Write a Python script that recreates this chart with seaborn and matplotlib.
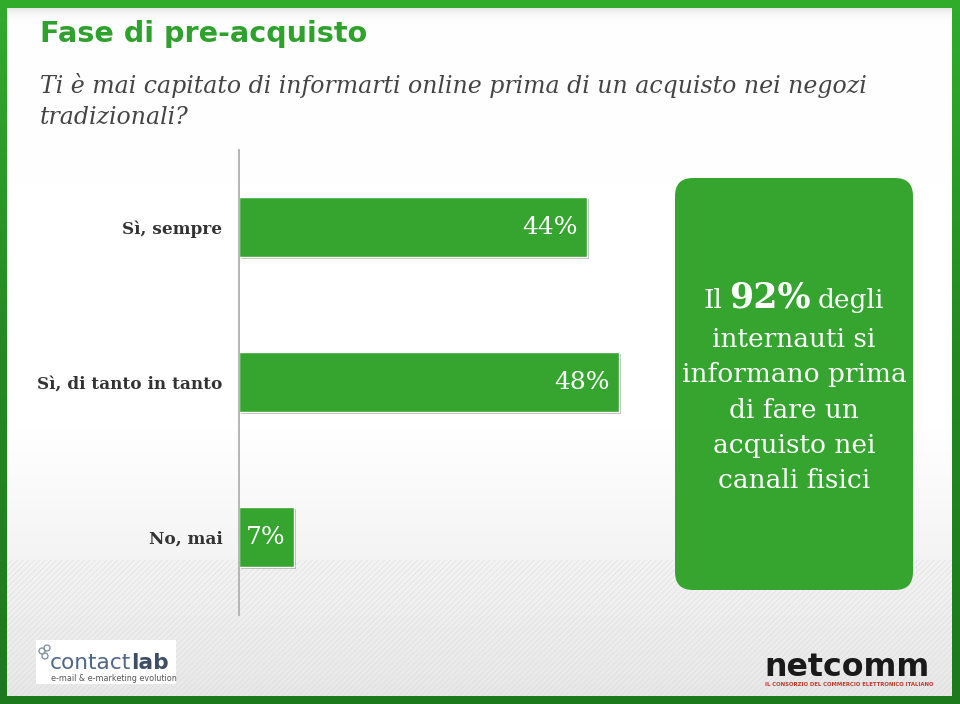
import matplotlib
matplotlib.use("Agg")
import matplotlib.pyplot as plt
import seaborn as sns
import numpy as np
import matplotlib.patheffects as pe
from matplotlib.patches import Rectangle, FancyBboxPatch, Circle
from matplotlib.colors import LinearSegmentedColormap

# ---------------- data ----------------
categories = ["Sì, sempre", "Sì, di tanto in tanto", "No, mai"]
values = [44, 48, 7]
value_labels = ["44%", "48%", "7%"]
title = "Fase di pre-acquisto"
subtitle_lines = ["Ti è mai capitato di informarti online prima di un acquisto nei negozi",
                  "tradizionali?"]
callout_first = ["Il", "92%", "degli"]
callout_lines = ["internauti si", "informano prima", "di fare un", "acquisto nei", "canali fisici"]

GREEN = "#35a52f"
W, H = 960, 704

sns.set_theme(style="white")
plt.rcParams['font.family'] = ['DejaVu Serif', 'DejaVu Sans']
plt.rcParams['hatch.linewidth'] = 0.6

fig = plt.figure(figsize=(9.6, 7.04), dpi=100)
bg = fig.add_axes([0, 0, 1, 1])
bg.set_xlim(0, W)
bg.set_ylim(H, 0)
bg.axis('off')

# border gradient
border_cmap = LinearSegmentedColormap.from_list('b', ['#31ac2b', '#238a21', '#1c7a1c'])
bg.imshow(np.linspace(0, 1, 256)[:, None], extent=[0, W, H, 0], cmap=border_cmap,
          aspect='auto', zorder=0)

# inner panel with soft gradient
x0, x1, y0, y1 = 7, 952, 8, 696
n = y1 - y0
rows = np.arange(n)
shade = np.ones(n)
shade -= 0.10 * np.exp(-rows / 5.0)
t = np.clip((rows - 420) / (n - 420), 0, 1)
shade -= 0.09 * t
img = np.repeat(shade[:, None, None], 3, axis=2)
bg.imshow(img, extent=[x0, x1, y1, y0], aspect='auto', zorder=1, vmin=0, vmax=1)
bg.add_patch(Rectangle((x0, 560), x1 - x0, y1 - 560, fill=False, hatch='//////',
                       edgecolor='#d9d9d9', lw=0, alpha=0.6, zorder=1.5))

# title & subtitle
bg.text(40, 34, title, color="#2fa12d", fontsize=20.6, fontweight='bold',
        family='DejaVu Sans', va='center', ha='left', zorder=3)
for i, line in enumerate(subtitle_lines):
    bg.text(40, 86 + 32 * i, line, color="#444444", fontsize=17, style='italic',
            va='center', ha='left', zorder=3)

# callout box
bg.add_patch(FancyBboxPatch((675, 178), 238, 412,
                            boxstyle='round,pad=0,rounding_size=18',
                            fc=GREEN, ec='none', zorder=2))
renderer = fig.canvas.get_renderer()
first_kw = [dict(fontsize=19), dict(fontsize=25, fontweight='bold'), dict(fontsize=19)]
pieces = [bg.text(0, 308, s, color='white', va='baseline', ha='left', zorder=3, **kw)
          for s, kw in zip(callout_first, first_kw)]
widths = [p.get_window_extent(renderer).width for p in pieces]
gap = 7
xx = 794 - (sum(widths) + gap * (len(widths) - 1)) / 2
for p, w in zip(pieces, widths):
    p.set_x(xx)
    xx += w + gap
for i, line in enumerate(callout_lines):
    bg.text(794, 347 + 35.3 * i, line, color='white', fontsize=19, va='baseline',
            ha='center', zorder=3)

# contactlab logo
bg.add_patch(Rectangle((36, 640), 140, 44, fc='white', ec='none', zorder=2))
for cx, cy in [(42, 651), (47, 648), (45, 656)]:
    bg.add_patch(Circle((cx, cy), 3, fc='none', ec='#7a8aa0', lw=0.9, zorder=3))
tc = bg.text(50, 669, "contact", family='DejaVu Sans', fontsize=15.6, color='#50678a',
             va='baseline', ha='left', zorder=3)
wc = tc.get_window_extent(renderer).width
bg.text(50 + wc, 669, "lab", family='DejaVu Sans', fontsize=15.6, fontweight='bold',
        color='#3e4e66', va='baseline', ha='left', zorder=3)
bg.text(51, 681, "e-mail & e-marketing evolution", family='DejaVu Sans', fontsize=5.8,
        color='#555555', va='baseline', ha='left', zorder=3)

# netcomm logo
bg.text(764, 676, "netcomm", family='DejaVu Sans', fontsize=22.8, fontweight='bold',
        color='#1a1a1a', va='baseline', ha='left', zorder=3)
bg.text(765, 686, "IL CONSORZIO DEL COMMERCIO ELETTRONICO ITALIANO", family='DejaVu Sans',
        fontsize=3.9, fontweight='bold', color='#c0392b', va='baseline', ha='left', zorder=3)

# ---------------- bar chart ----------------
ax = fig.add_axes([239 / W, 1 - 614.5 / H, 435 / W, 465 / H])
ax.patch.set_alpha(0)
sns.barplot(x=values, y=categories, ax=ax, color=GREEN, saturation=1, width=0.39,
            orient='h')
ax.set_xlim(0, 55)
ax.set_ylim(2.5, -0.5)
ax.set_xticks([])
ax.set_xlabel('')
ax.set_ylabel('')
for s in ['top', 'right', 'bottom']:
    ax.spines[s].set_visible(False)
ax.spines['left'].set_color('#b0b0b0')
ax.spines['left'].set_linewidth(1.3)
ax.tick_params(axis='y', length=0, pad=12)
for lab in ax.get_yticklabels():
    lab.set_fontweight('bold')
    lab.set_fontsize(12.2)
    lab.set_color('#333333')
for patch in ax.patches:
    patch.set_path_effects([pe.SimplePatchShadow(offset=(1.5, -1.5), shadow_rgbFace='#666666',
                                                 alpha=0.45), pe.Normal()])
for i, (v, lab) in enumerate(zip(values, value_labels)):
    ax.annotate(lab, xy=(v, i), xytext=(-6.5, 0), textcoords='offset points',
                ha='right', va='center', color='white', fontsize=18)

fig.savefig("out.png", dpi=100)
